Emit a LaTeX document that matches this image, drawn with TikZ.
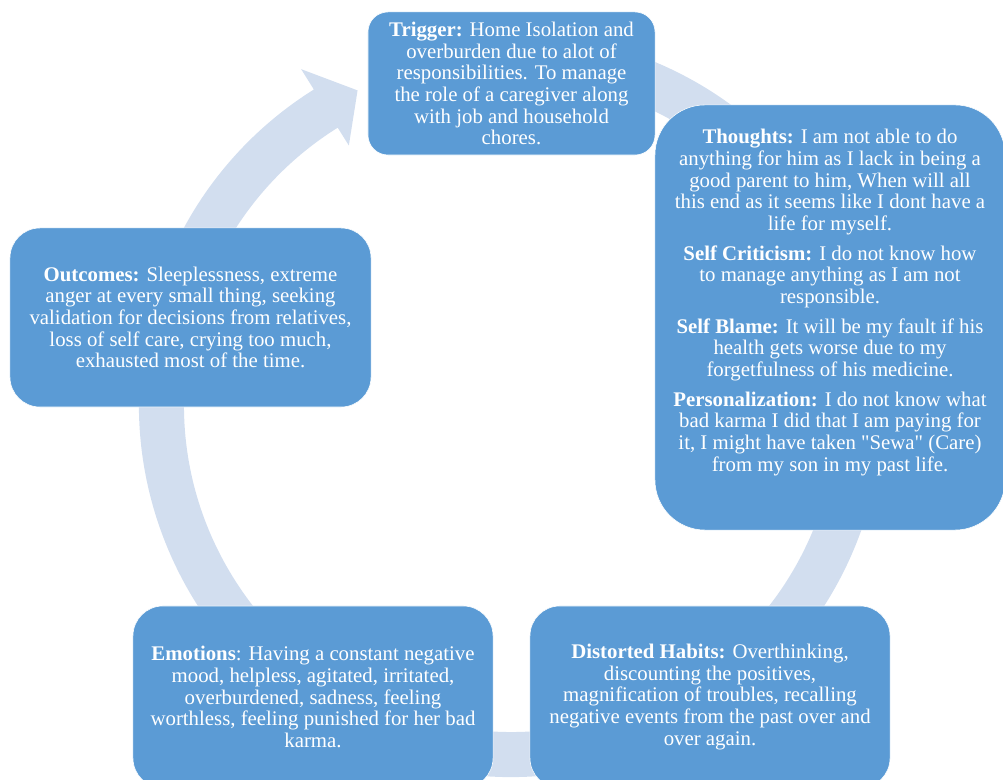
\documentclass[tikz,border=0pt]{standalone}
\usepackage{fontspec}
\setmainfont{Liberation Serif}[Ligatures=TeXOff]
\usetikzlibrary{calc}
\definecolor{Box}{HTML}{5B9BD5}
\definecolor{Ring}{HTML}{D2DEEF}
\tikzset{
  words/.style={
    text=white, align=center, font=\fontsize{14.8}{15.4}\selectfont
  },
  stage/.style={
    words, rounded corners=0.75cm, draw=white, thin, fill=Box,
    inner sep=0pt
  },
  ring/.style={fill=Ring}
}

\begin{document}
\begin{tikzpicture}[x=0.025cm,y=0.025cm]
  \useasboundingbox (0,0) rectangle (1003,780);
  \clip (0,0) rectangle (1003,780);
  \coordinate (hub) at (511,375);
  \fill[ring] ($(hub)+(70:372)$) arc[start angle=70,end angle=-238,radius=372]
    -- ($(hub)+(122:396)$) -- ($(hub)+(116:350)$) -- ($(hub)+(122:306)$)
    -- ($(hub)+(122:327)$) arc[start angle=122,end angle=430,radius=327] -- cycle;
  \node[stage,rounded corners=0.5cm,minimum width=7.175cm,minimum height=3.575cm] (trigger) at (511.5,696.5)
    {\textbf{Trigger:} Home Isolation and\\ overburden due to alot of\\ responsibilities.  To manage\\ the role of a caregiver along\\ with job and household\\ chores.};
  \node[stage,rounded corners=1.25cm,minimum width=8.75cm,minimum height=10.625cm] (thoughts) at (830,462.5) {};
  \node[words] (thoughtstext) at ([yshift=0.375cm]thoughts.center)
    {\textbf{Thoughts:} I am not able to do\\ anything for him as I lack in being a\\ good parent to him, When will all\\ this end as it seems like I dont have a\\ life for myself.\\[5.7pt]
     \textbf{Self Criticism:} I do not know how\\ to manage anything as I am not\\ responsible.\\[5.7pt]
     \textbf{Self Blame:} It will be my fault if his\\ health gets worse due to my\\ forgetfulness of his medicine.\\[5.7pt]
     \textbf{Personalization:} I do not know what\\ bad karma I did that I am paying for\\ it, I might have taken "Sewa" (Care)\\ from my son in my past life.};
  \node[stage,minimum width=9.025cm,minimum height=4.475cm] (outcomes) at (190.5,462.5)
    {\textbf{Outcomes:} Sleeplessness, extreme\\ anger at every small thing, seeking\\ validation for decisions from relatives,\\ loss of self care, crying too much,\\ exhausted most of the time.};
  \node[stage,minimum width=9cm,minimum height=4.55cm] (emotions) at (313,83)
    {\textbf{Emotions}: Having a constant negative\\ mood, helpless, agitated, irritated,\\ overburdened, sadness, feeling\\ worthless, feeling punished for her bad\\ karma.};
  \node[stage,minimum width=9cm,minimum height=4.55cm] (habits) at (710,83)
    {\textbf{Distorted Habits:}  Overthinking,\\ discounting the positives,\\ magnification of troubles, recalling\\ negative events from the past over and\\ over again.};
\end{tikzpicture}
\end{document}
